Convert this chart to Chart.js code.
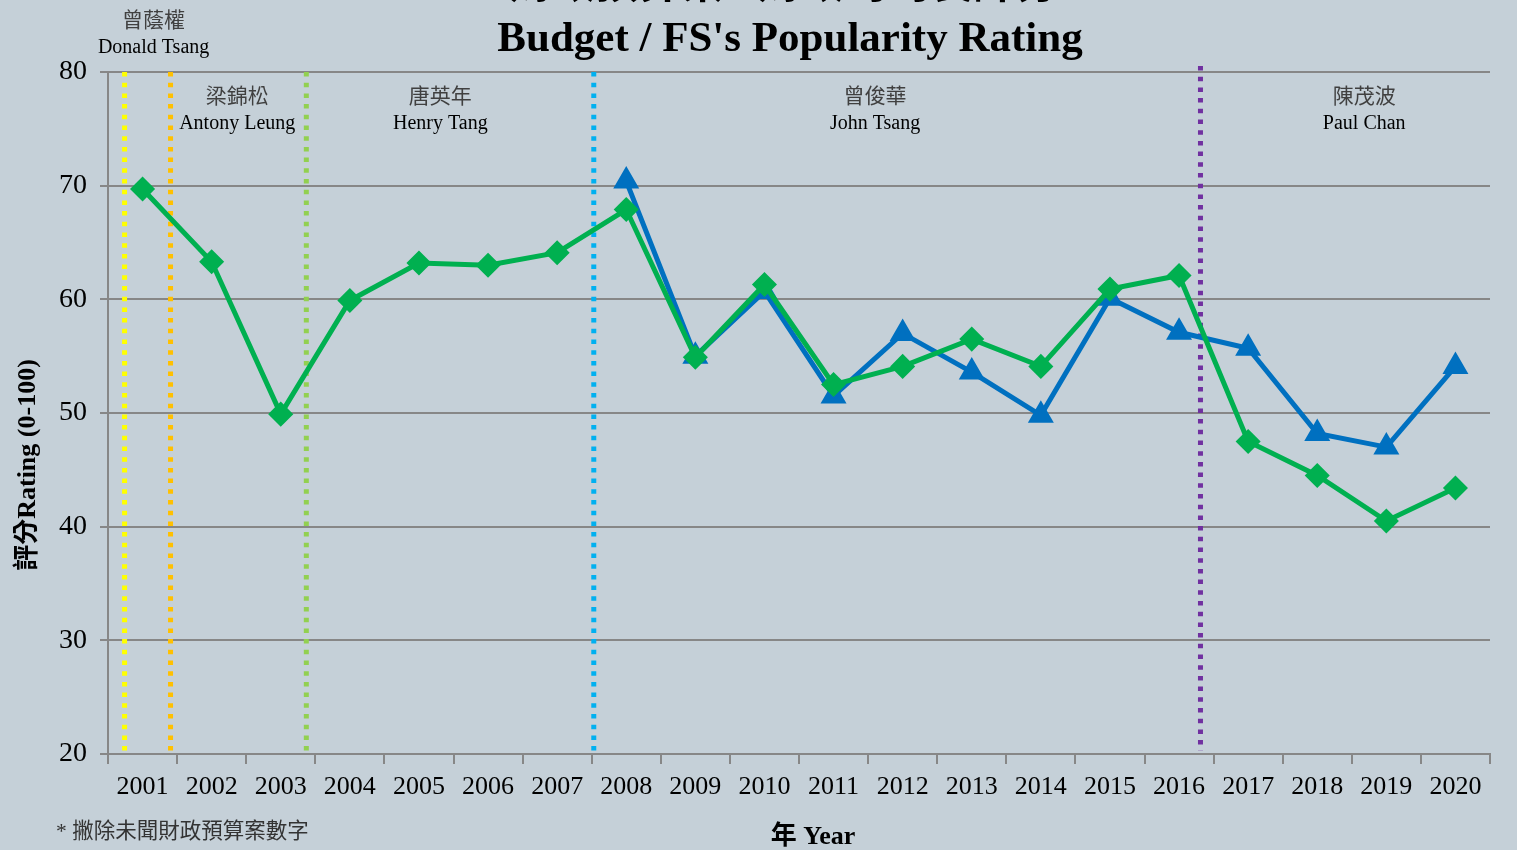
<!DOCTYPE html>
<html>
<head>
<meta charset="utf-8">
<script src="https://cdn.jsdelivr.net/npm/chart.js@4.4.1/dist/chart.umd.min.js"></script>
<style>
    html, body { margin: 0; padding: 0; background: #c5d0d8; }
    #wrap { width: 1517px; height: 850px; position: relative; }
</style>
</head>
<body>
<div id="wrap"><canvas id="rating-chart"></canvas></div>
<script>
// Budget / FS popularity rating, 2001-2020

const YEARS = ['2001', '2002', '2003', '2004', '2005', '2006', '2007', '2008', '2009', '2010',
    '2011', '2012', '2013', '2014', '2015', '2016', '2017', '2018', '2019', '2020'];

// blue triangles (FS rating), starts 2008
const FS_RATING = [null, null, null, null, null, null, null, 70.4, 55.0, 60.7,
    51.5, 57.0, 53.6, 49.8, 60.1, 57.1, 55.7, 48.2, 47.0, 54.1];

// green diamonds (budget rating)
const BUDGET_RATING = [69.7, 63.3, 49.9, 59.9, 63.2, 63.0, 64.1, 67.9, 54.9, 61.3,
    52.5, 54.1, 56.5, 54.1, 60.9, 62.1, 47.5, 44.5, 40.5, 43.4];

const Y_TICKS = [20, 30, 40, 50, 60, 70, 80];

// change of Financial Secretary, position in year index (2001 = 0)
const TERM_LINES = [-0.26, 0.405, 2.37, 6.53, 15.31];
const TERM_COLORS = ['#ffff00', '#ffc000', '#92d050', '#00b0f0', '#7030a0'];

const FS_NAMES_ZH = ['曾蔭權', '梁錦松', '唐英年', '曾俊華', '陳茂波'];
const FS_NAMES_EN = ['Donald Tsang', 'Antony Leung', 'Henry Tang', 'John Tsang', 'Paul Chan'];
const FS_NAME_POS = [0.16, 1.37, 4.31, 10.6, 17.68];
const FS_NAME_ROW = [84.6, 77.9, 77.9, 77.9, 77.9];

const SERIF = '"Liberation Serif", "Times New Roman", "Noto Sans CJK TC", serif';

const decorPlugin = {
    id: 'decor',
    beforeDraw(chart) {
        const c = chart.ctx;
        c.save();
        c.fillStyle = '#c5d0d8';
        c.fillRect(0, 0, chart.width, chart.height);
        c.restore();
    },
    beforeDatasetsDraw(chart) {
        const c = chart.ctx;
        const x = chart.scales.x;
        const area = chart.chartArea;
        c.save();
        c.lineWidth = 5;
        c.setLineDash([4.5, 6.2]);
        TERM_LINES.forEach((pos, i) => {
            const px = x.getPixelForValue(pos);
            const top = i === TERM_LINES.length - 1 ? area.top - 6 : area.top;
            c.strokeStyle = TERM_COLORS[i];
            c.beginPath();
            c.moveTo(px, top);
            c.lineTo(px, area.bottom - 3);
            c.stroke();
        });
        c.restore();
    },
    afterDraw(chart) {
        const c = chart.ctx;
        const x = chart.scales.x;
        const y = chart.scales.y;
        c.save();
        c.textAlign = 'center';
        c.textBaseline = 'middle';

        // names of the Financial Secretaries
        FS_NAMES_ZH.forEach((name, i) => {
            const px = x.getPixelForValue(FS_NAME_POS[i]);
            const py = y.getPixelForValue(FS_NAME_ROW[i]);
            c.fillStyle = '#404040';
            c.font = '21px ' + SERIF;
            c.fillText(name, px, py + 2);
            c.fillStyle = '#000';
            c.font = '20px ' + SERIF;
            c.fillText(FS_NAMES_EN[i], px, py + 28);
        });

        // titles
        c.fillStyle = '#000';
        c.font = 'bold 43px ' + SERIF;
        c.fillText('財政預算案 / 財政司司長評分', 784, -13);
        c.fillText("Budget / FS's Popularity Rating", 790, 40);

        c.font = 'bold 26px ' + SERIF;
        c.fillText('年 Year', 813, 837);

        c.save();
        c.translate(28, 465);
        c.rotate(-Math.PI / 2);
        c.font = 'bold 26px ' + SERIF;
        c.fillText('評分Rating (0-100)', 0, 0);
        c.restore();

        c.textAlign = 'left';
        c.fillStyle = '#333';
        c.font = '21.5px ' + SERIF;
        c.fillText('* 撇除未聞財政預算案數字', 56, 832);
        c.restore();
    }
};

const ctx = document.getElementById('rating-chart').getContext('2d');

new Chart(ctx, {
    type: 'line',
    data: {
        labels: YEARS,
        datasets: [
            {
                label: 'Budget',
                data: BUDGET_RATING,
                borderColor: '#00b050',
                backgroundColor: '#00b050',
                borderWidth: 5,
                pointStyle: 'rectRot',
                pointRadius: 9,
                pointHoverRadius: 9,
                tension: 0,
                order: 0
            },
            {
                label: 'FS',
                data: FS_RATING,
                borderColor: '#0070c0',
                backgroundColor: '#0070c0',
                borderWidth: 5,
                pointStyle: 'triangle',
                pointRadius: 10,
                pointHoverRadius: 10,
                tension: 0,
                order: 1
            }
        ]
    },
    options: {
        responsive: true,
        maintainAspectRatio: false,
        animation: false,
        layout: {
            padding: { left: 0, right: 27, top: 72, bottom: 0 }
        },
        plugins: {
            legend: { display: false },
            title: { display: false },
            tooltip: { enabled: false }
        },
        scales: {
            x: {
                offset: true,
                afterFit: function(scale) { scale.height = 96; },
                grid: {
                    offset: true,
                    drawOnChartArea: false,
                    drawTicks: true,
                    tickLength: 10,
                    color: '#878787',
                    lineWidth: 2
                },
                border: { display: true, color: '#878787', width: 2 },
                ticks: {
                    color: '#000',
                    padding: 8,
                    maxRotation: 0,
                    autoSkip: false,
                    font: { family: SERIF, size: 26 }
                }
            },
            y: {
                min: 20,
                max: 80,
                afterFit: function(scale) { scale.width = 108; },
                afterBuildTicks: function(scale) {
                    scale.ticks = Y_TICKS.map(v => ({ value: v }));
                },
                grid: {
                    color: '#878787',
                    lineWidth: 2,
                    tickLength: 8
                },
                border: { display: true, color: '#878787', width: 2 },
                ticks: {
                    color: '#000',
                    padding: 13,
                    font: { family: SERIF, size: 28 }
                }
            }
        }
    },
    plugins: [decorPlugin]
});
</script>
</body>
</html>
